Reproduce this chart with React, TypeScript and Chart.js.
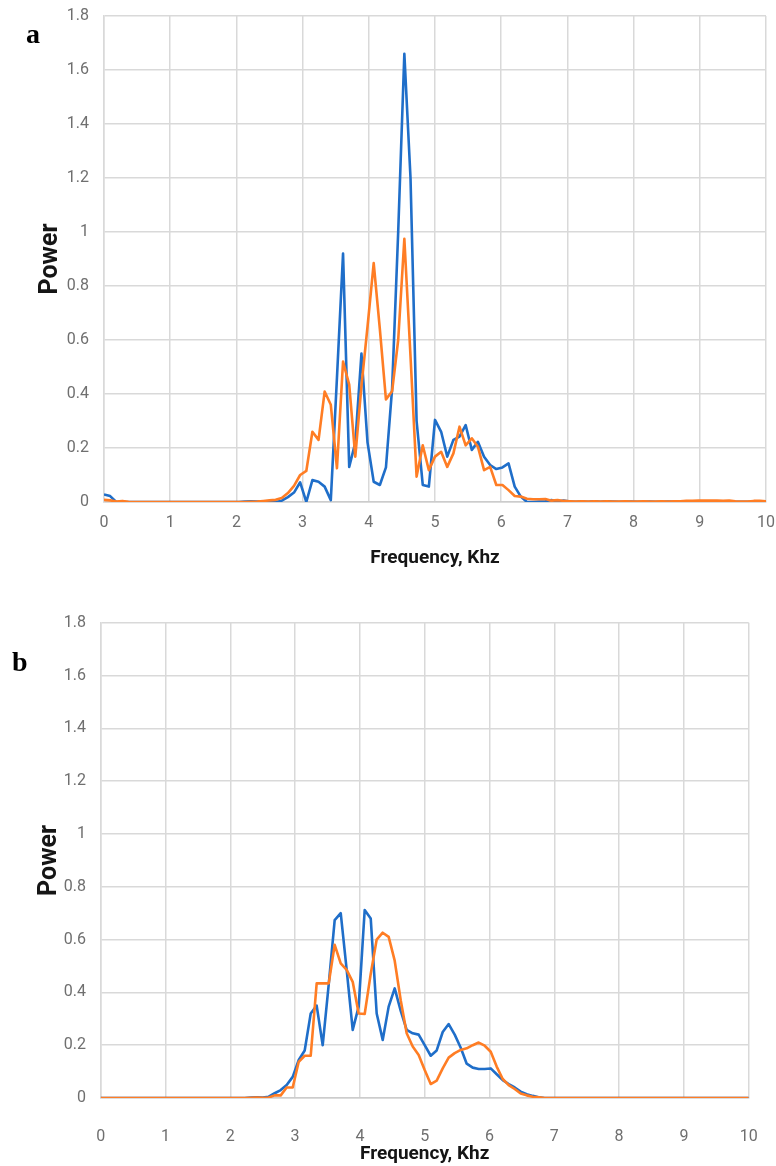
import React, { useEffect, useRef } from "react";
import { Chart, registerables } from "chart.js";

Chart.register(...registerables);

// Frequency bins (kHz), 109 bins from 0 to 10
const freq = [
  0, 0.093, 0.185, 0.278, 0.37, 0.463, 0.556, 0.648, 0.741, 0.833,
  0.926, 1.019, 1.111, 1.204, 1.296, 1.389, 1.481, 1.574, 1.667, 1.759,
  1.852, 1.944, 2.037, 2.13, 2.222, 2.315, 2.407, 2.5, 2.593, 2.685,
  2.778, 2.87, 2.963, 3.056, 3.148, 3.241, 3.333, 3.426, 3.519, 3.611,
  3.704, 3.796, 3.889, 3.981, 4.074, 4.167, 4.259, 4.352, 4.444, 4.537,
  4.63, 4.722, 4.815, 4.907, 5.0, 5.093, 5.185, 5.278, 5.37, 5.463,
  5.556, 5.648, 5.741, 5.833, 5.926, 6.019, 6.111, 6.204, 6.296, 6.389,
  6.481, 6.574, 6.667, 6.759, 6.852, 6.944, 7.037, 7.13, 7.222, 7.315,
  7.407, 7.5, 7.593, 7.685, 7.778, 7.87, 7.963, 8.056, 8.148, 8.241,
  8.333, 8.426, 8.519, 8.611, 8.704, 8.796, 8.889, 8.981, 9.074, 9.167,
  9.259, 9.352, 9.444, 9.537, 9.63, 9.722, 9.815, 9.907, 10.0,
];

// Panel a
const blueA = [
  0.028, 0.022, 0, 0, 0, 0, 0, 0, 0, 0,
  0, 0, 0, 0, 0, 0, 0, 0, 0, 0,
  0, 0, 0, 0.002, 0.003, 0.002, 0.003, 0.001, 0, 0.005,
  0.018, 0.035, 0.073, 0, 0.081, 0.075, 0.057, 0.007, 0.46, 0.92,
  0.13, 0.22, 0.55, 0.22, 0.075, 0.063, 0.128, 0.42, 1.0, 1.66,
  1.2, 0.3, 0.063, 0.057, 0.304, 0.26, 0.168, 0.23, 0.242, 0.285,
  0.193, 0.223, 0.168, 0.137, 0.122, 0.128, 0.143, 0.057, 0.02, 0,
  0, 0.002, 0.003, 0.007, 0.002, 0.005, 0.002, 0.001, 0.002, 0.001,
  0.003, 0.001, 0.003, 0.002, 0.001, 0.001, 0.002, 0.001, 0.001, 0.002,
  0.001, 0.001, 0.002, 0.001, 0.001, 0.002, 0.003, 0.002, 0.001, 0.001,
  0.001, 0.002, 0.001, 0.001, 0.001, 0.001, 0.002, 0.001, 0.001,
];

const orangeA = [
  0.008, 0.006, 0.002, 0.004, 0.001, 0, 0, 0, 0, 0,
  0, 0, 0, 0, 0, 0, 0, 0, 0, 0,
  0, 0, 0, 0, 0.001, 0.002, 0.004, 0.006, 0.008, 0.015,
  0.033, 0.06, 0.1, 0.115, 0.26, 0.23, 0.409, 0.36, 0.125, 0.52,
  0.435, 0.168, 0.43, 0.65, 0.885, 0.64, 0.38, 0.41, 0.6, 0.975,
  0.54, 0.094, 0.21, 0.118, 0.168, 0.186, 0.13, 0.18, 0.279, 0.21,
  0.236, 0.205, 0.118, 0.13, 0.063, 0.063, 0.044, 0.022, 0.02, 0.012,
  0.01, 0.01, 0.011, 0.005, 0.007, 0.004, 0.003, 0.002, 0.003, 0.002,
  0.003, 0.002, 0.003, 0.002, 0.002, 0.003, 0.002, 0.002, 0.003, 0.002,
  0.002, 0.003, 0.002, 0.003, 0.003, 0.004, 0.004, 0.005, 0.005, 0.005,
  0.005, 0.004, 0.005, 0.003, 0.002, 0.002, 0.004, 0.004, 0.003,
];

// Panel b
const blueB = [
  0, 0, 0, 0, 0, 0, 0, 0, 0, 0,
  0, 0, 0, 0, 0, 0, 0, 0, 0, 0,
  0, 0, 0, 0, 0, 0.002, 0.003, 0.002, 0.005, 0.018,
  0.03, 0.049, 0.08, 0.144, 0.18, 0.32, 0.35, 0.2, 0.43, 0.674,
  0.7, 0.485, 0.258, 0.346, 0.712, 0.68, 0.32, 0.22, 0.346, 0.415,
  0.33, 0.258, 0.245, 0.24, 0.2, 0.16, 0.18, 0.25, 0.28, 0.24,
  0.19, 0.13, 0.115, 0.11, 0.11, 0.112, 0.09, 0.068, 0.053, 0.04,
  0.024, 0.014, 0.008, 0.003, 0, 0, 0, 0, 0, 0,
  0, 0, 0, 0, 0, 0, 0, 0, 0, 0,
  0, 0, 0, 0, 0, 0, 0, 0, 0, 0,
  0, 0, 0, 0, 0, 0, 0, 0, 0,
];

const orangeB = [
  0, 0, 0, 0, 0, 0, 0, 0, 0, 0,
  0, 0, 0, 0, 0, 0, 0, 0, 0, 0,
  0, 0, 0, 0, 0, 0.001, 0.002, 0.001, 0.002, 0.01,
  0.01, 0.04, 0.04, 0.137, 0.16, 0.16, 0.434, 0.434, 0.434, 0.58,
  0.51, 0.485, 0.44, 0.32, 0.318, 0.47, 0.6, 0.626, 0.61, 0.52,
  0.37, 0.245, 0.195, 0.163, 0.106, 0.053, 0.066, 0.112, 0.153, 0.17,
  0.182, 0.188, 0.2, 0.21, 0.198, 0.175, 0.119, 0.072, 0.049, 0.034,
  0.017, 0.01, 0.005, 0.003, 0, 0, 0, 0, 0, 0,
  0, 0, 0, 0, 0, 0, 0, 0, 0, 0,
  0, 0, 0, 0, 0, 0, 0, 0, 0, 0,
  0, 0, 0, 0, 0, 0, 0, 0, 0,
];

const xMin = 0;
const xMax = 10;
const xStep = 1;
const yMin = 0;
const yMax = 1.8;
const yStep = 0.2;
const xTitle = "Frequency, Khz";
const yTitle = "Power";

const BLUE = "#1f6ec9";
const ORANGE = "#ff7d24";
const GRID = "#d9d9d9";
const AXIS = "#cccccc";
const TICK = "#6f6f6f";

type PanelCfg = {
  top: number;
  height: number;
  plotLeft: number;
  plotRight: number;
  plotTop: number;
  plotBottom: number;
  xTickPad: number;
  xTitlePad: number;
  yTickPad: number;
  yTitlePad: number;
  blue: number[];
  orange: number[];
};

const W = 776;

function Panel({ cfg }: { cfg: PanelCfg }) {
  const ref = useRef<HTMLCanvasElement>(null);
  useEffect(() => {
    const canvas = ref.current;
    if (!canvas) return;
    const toPts = (arr: number[]) => arr.map((v, i) => ({ x: freq[i], y: v }));
    const chart = new Chart(canvas, {
      type: "line",
      data: {
        datasets: [
          {
            label: "blue",
            data: toPts(cfg.blue),
            borderColor: BLUE,
            backgroundColor: BLUE,
            borderWidth: 2.6,
            pointRadius: 0,
            tension: 0,
            fill: false,
            borderJoinStyle: "round",
            order: 2,
          },
          {
            label: "orange",
            data: toPts(cfg.orange),
            borderColor: ORANGE,
            backgroundColor: ORANGE,
            borderWidth: 2.6,
            pointRadius: 0,
            tension: 0,
            fill: false,
            borderJoinStyle: "round",
            order: 1,
          },
        ],
      },
      options: {
        responsive: false,
        animation: false,
        events: [],
        layout: {
          padding: { left: 0, right: W - cfg.plotRight, top: cfg.plotTop, bottom: 0 },
        },
        plugins: {
          legend: { display: false },
          tooltip: { enabled: false },
          title: { display: false },
        },
        scales: {
          x: {
            type: "linear",
            min: xMin,
            max: xMax,
            ticks: {
              stepSize: xStep,
              padding: cfg.xTickPad,
              maxRotation: 0,
              autoSkip: false,
              color: TICK,
              font: { family: "Roboto", size: 16 },
            },
            grid: { color: GRID, lineWidth: 1.5, drawTicks: false },
            border: { color: AXIS, width: 1.5 },
            title: {
              display: true,
              text: xTitle,
              color: "#151515",
              font: { family: "Roboto", size: 19, weight: "bold" },
              padding: { top: 0, bottom: cfg.xTitlePad },
            },
            afterFit: (s: any) => {
              s.height = cfg.height - cfg.plotBottom;
              s.paddingLeft = 0;
              s.paddingRight = 0;
            },
          },
          y: {
            type: "linear",
            min: yMin,
            max: yMax,
            ticks: {
              stepSize: yStep,
              padding: cfg.yTickPad,
              color: TICK,
              font: { family: "Roboto", size: 16 },
              callback: (v: any) => String(Number(Number(v).toFixed(1))),
            },
            grid: { color: GRID, lineWidth: 1.5, drawTicks: false },
            border: { color: GRID, width: 1.5 },
            title: {
              display: true,
              text: yTitle,
              color: "#151515",
              font: { family: "Roboto", size: 25, weight: "bold" },
              padding: { top: cfg.yTitlePad, bottom: 0 },
            },
            afterFit: (s: any) => {
              s.width = cfg.plotLeft;
              s.paddingTop = 0;
              s.paddingBottom = 0;
            },
          },
        },
      },
    } as any);
    return () => chart.destroy();
  }, [cfg]);
  return (
    <canvas
      ref={ref}
      width={W}
      height={cfg.height}
      style={{ position: "absolute", left: 0, top: cfg.top, display: "block" }}
    />
  );
}

const panelA: PanelCfg = {
  top: 0,
  height: 580,
  plotLeft: 104,
  plotRight: 766,
  plotTop: 16,
  plotBottom: 502,
  xTickPad: 11.4,
  xTitlePad: 10.6,
  yTickPad: 15,
  yTitlePad: 36,
  blue: blueA,
  orange: orangeA,
};

const panelB: PanelCfg = {
  top: 600,
  height: 566,
  plotLeft: 100.7,
  plotRight: 748.7,
  plotTop: 22.7,
  plotBottom: 498,
  xTickPad: 29.4,
  xTitlePad: 0,
  yTickPad: 14.7,
  yTitlePad: 34.5,
  blue: blueB,
  orange: orangeB,
};

const letterStyle: React.CSSProperties = {
  position: "absolute",
  fontFamily: "'Liberation Serif', 'DejaVu Serif', serif",
  fontWeight: "bold",
  fontSize: 28,
  lineHeight: "28px",
  color: "#000",
  margin: 0,
};

export default function App() {
  return (
    <div style={{ position: "absolute", left: 0, top: 0, width: W, height: 1166, overflow: "hidden", background: "#fff" }}>
      <Panel cfg={panelA} />
      <Panel cfg={panelB} />
      <div style={{ ...letterStyle, left: 26, top: 20 }}>a</div>
      <div style={{ ...letterStyle, left: 12, top: 648 }}>b</div>
    </div>
  );
}
